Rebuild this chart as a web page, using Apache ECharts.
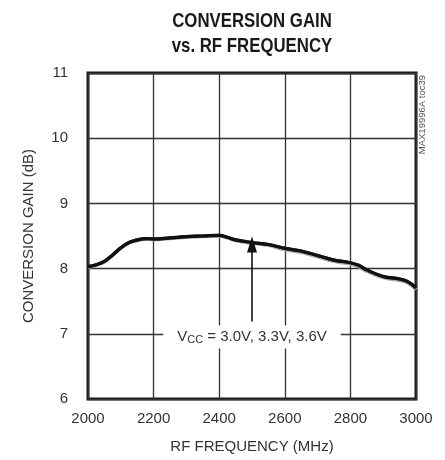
<!DOCTYPE html>
<html>
<head>
<meta charset="utf-8">
<script src="https://cdn.jsdelivr.net/npm/echarts@6/dist/echarts.min.js"></script>
<style>
  html, body { margin: 0; padding: 0; background: #fff; }
  #chart { width: 445px; height: 460px; }
</style>
</head>
<body>
<div id="chart"></div>
<script>
// RF frequency (MHz)
const freqMHz = [2000, 2025, 2050, 2075, 2100, 2125, 2150, 2175, 2200, 2250, 2300, 2350, 2400, 2425,
                 2450, 2500, 2550, 2600, 2650, 2700, 2750, 2800, 2825, 2850, 2900, 2950, 2975, 3000];
// Conversion gain (dB), VCC = 3.3V trace
const gainMid = [8.03, 8.06, 8.11, 8.21, 8.32, 8.40, 8.44, 8.46, 8.455, 8.47, 8.49, 8.50, 8.51, 8.48,
                 8.44, 8.40, 8.37, 8.31, 8.27, 8.20, 8.13, 8.09, 8.05, 7.98, 7.88, 7.84, 7.80, 7.70];
// Conversion gain (dB), VCC = 3.0V trace
const gainLow = [8.02, 8.05, 8.10, 8.20, 8.31, 8.39, 8.43, 8.45, 8.445, 8.46, 8.48, 8.49, 8.50, 8.47,
                 8.43, 8.39, 8.355, 8.29, 8.25, 8.18, 8.11, 8.07, 8.03, 7.96, 7.86, 7.82, 7.78, 7.68];
// Conversion gain (dB), VCC = 3.6V trace
const gainHigh = [8.03, 8.06, 8.11, 8.21, 8.32, 8.40, 8.44, 8.46, 8.455, 8.47, 8.49, 8.50, 8.51, 8.48,
                  8.44, 8.40, 8.37, 8.31, 8.27, 8.20, 8.13, 8.09, 8.05, 7.98, 7.88, 7.84, 7.80, 7.71];

const xTicks = [2000, 2200, 2400, 2600, 2800, 3000];
const yTicks = [6, 7, 8, 9, 10, 11];

// annotation arrow (frequency, gain endpoints) and its label position
const arrowFreq = 2500;
const arrowFrom = 7.19;
const arrowTo = 8.37;
const labelGain = 6.95;

const FONT = '"Liberation Sans", Arial, sans-serif';

const pair = (ys) => freqMHz.map((f, i) => [f, ys[i]]);

const chart = echarts.init(document.getElementById('chart'), null, { renderer: 'canvas' });

// condensed bold heading, two lines
const titleText = (text, y) => ({
  type: 'text',
  x: 252,
  y: y,
  scaleX: 0.8,
  silent: true,
  style: {
    text: text,
    align: 'center',
    verticalAlign: 'top',
    fontFamily: FONT,
    fontWeight: 'bold',
    fontSize: 21,
    fill: '#1a1a1a'
  }
});

chart.setOption({
  backgroundColor: '#ffffff',
  animation: false,
  grid: {
    left: 88,
    right: 29,
    top: 73,
    bottom: 61,
    show: true,
    borderColor: '#1a1a1a',
    borderWidth: 3,
    backgroundColor: 'transparent'
  },
  xAxis: {
    type: 'value',
    min: 2000,
    max: 3000,
    interval: 200,
    name: 'RF FREQUENCY (MHz)',
    nameLocation: 'middle',
    nameGap: 40,
    nameTextStyle: { fontFamily: FONT, fontSize: 15, color: '#333' },
    axisLine: { show: false },
    axisTick: { show: false },
    axisLabel: {
      fontFamily: FONT, fontSize: 15, color: '#333', margin: 12,
      formatter: (v) => xTicks.includes(v) ? String(v) : ''
    },
    splitLine: { show: true, lineStyle: { color: '#333', width: 1.3 } }
  },
  yAxis: {
    type: 'value',
    min: 6,
    max: 11,
    interval: 1,
    name: 'CONVERSION GAIN (dB)',
    nameLocation: 'middle',
    nameGap: 52,
    nameTextStyle: { fontFamily: FONT, fontSize: 15, color: '#333' },
    axisLine: { show: false },
    axisTick: { show: false },
    axisLabel: {
      fontFamily: FONT, fontSize: 15, color: '#333', margin: 20,
      formatter: (v) => yTicks.includes(v) ? String(v) : ''
    },
    splitLine: { show: true, lineStyle: { color: '#333', width: 1.3 } }
  },
  graphic: [
    titleText('CONVERSION GAIN', 11),
    titleText('vs. RF FREQUENCY', 36),
    {
      type: 'text',
      x: 427,
      y: 75,
      rotation: Math.PI / 2,
      silent: true,
      style: {
        text: 'MAX19996A toc39',
        align: 'right',
        verticalAlign: 'bottom',
        fontFamily: FONT,
        fontSize: 9.5,
        fill: '#555'
      }
    }
  ],
  series: [
    {
      name: 'VCC = 3.0V',
      type: 'line',
      data: pair(gainLow),
      smooth: 0.4,
      showSymbol: false,
      lineStyle: { color: '#a8a8a8', width: 3.4 },
      z: 3
    },
    {
      name: 'VCC = 3.6V',
      type: 'line',
      data: pair(gainHigh),
      smooth: 0.4,
      showSymbol: false,
      lineStyle: { color: '#222', width: 3.2 },
      z: 4
    },
    {
      name: 'VCC = 3.3V',
      type: 'line',
      data: pair(gainMid),
      smooth: 0.4,
      showSymbol: false,
      lineStyle: { color: '#111', width: 3.2 },
      z: 5,
      markLine: {
        silent: true,
        animation: false,
        symbol: ['none', 'triangle'],
        symbolSize: [10, 16],
        lineStyle: { color: '#111', width: 1.6, type: 'solid' },
        label: { show: false },
        data: [[
          { coord: [arrowFreq, arrowFrom] },
          { coord: [arrowFreq, arrowTo] }
        ]]
      },
      markPoint: {
        silent: true,
        symbol: 'rect',
        symbolSize: 0.1,
        itemStyle: { color: 'transparent' },
        data: [{
          coord: [arrowFreq, labelGain],
          label: {
            show: true,
            position: 'inside',
            formatter: '{m|V}{s|CC}{m| = 3.0V, 3.3V, 3.6V}',
            backgroundColor: '#ffffff',
            padding: [3, 14, 3, 14],
            rich: {
              m: { fontFamily: FONT, fontSize: 15, color: '#333' },
              s: { fontFamily: FONT, fontSize: 11, color: '#333', verticalAlign: 'bottom', padding: [6, 0, 0, 0] }
            }
          }
        }]
      }
    }
  ]
});
</script>
</body>
</html>
